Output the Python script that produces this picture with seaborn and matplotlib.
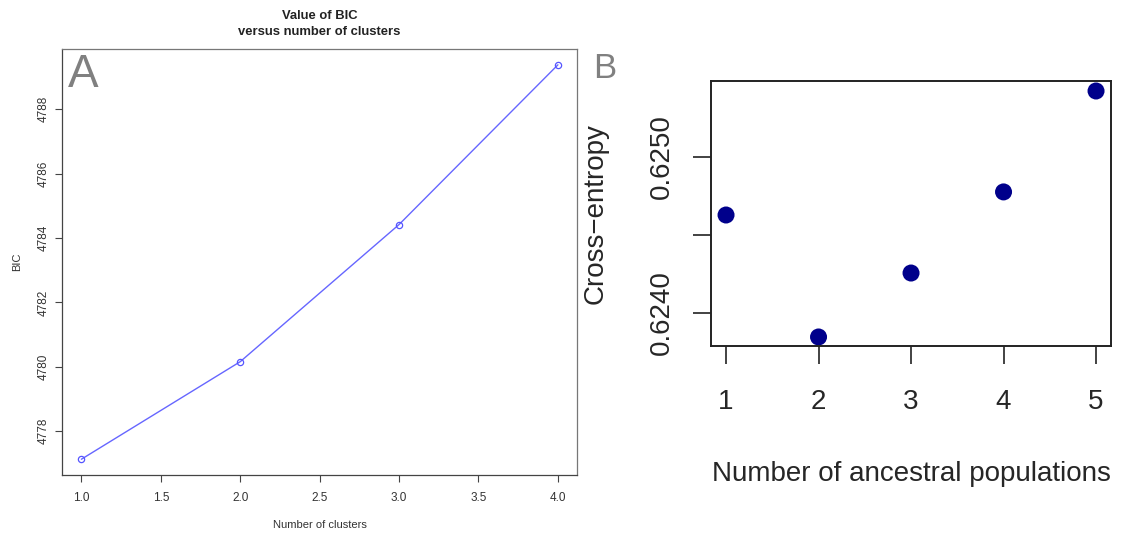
import matplotlib
matplotlib.use("Agg")
import matplotlib.pyplot as plt
import seaborn as sns
import pandas as pd

# Panel A data
clusters = [1, 2, 3, 4]
bic = [4777.13, 4780.16, 4784.42, 4789.38]
# Panel B data
k_pops = [1, 2, 3, 4, 5]
cross_entropy = [0.624628, 0.623846, 0.624256, 0.624776, 0.625423]

sns.set_theme(style="white")
plt.rcParams['font.family'] = ['Liberation Sans', 'DejaVu Sans']

fig = plt.figure(figsize=(11.21, 5.33), dpi=100)

# ---- Panel A ----
axA = fig.add_axes([0.0556, 0.1088, 0.4591, 0.7992])
dfA = pd.DataFrame({"k": clusters, "bic": bic})
sns.lineplot(data=dfA, x="k", y="bic", ax=axA, color="#6666ff", linewidth=1.0,
             marker="o", markersize=4.5, markerfacecolor="none",
             markeredgecolor="#5555ff", markeredgewidth=0.9)
axA.set_xlim(0.88, 4.12)
axA.set_ylim(4776.64, 4789.87)
axA.set_xticks([1.0, 1.5, 2.0, 2.5, 3.0, 3.5, 4.0])
axA.set_xticklabels(["1.0", "1.5", "2.0", "2.5", "3.0", "3.5", "4.0"], fontsize=8.5, color="#333333")
axA.set_yticks([4778, 4780, 4782, 4784, 4786, 4788])
axA.set_yticklabels(["4778", "4780", "4782", "4784", "4786", "4788"], fontsize=8.5,
                    rotation=90, va="center", color="#333333")
axA.tick_params(axis="both", length=5, width=0.8, color="#444444", left=True, bottom=True)
axA.tick_params(axis="y", pad=4)
axA.tick_params(axis="x", pad=7.5)
for s in axA.spines.values():
    s.set_color("#777777")
    s.set_linewidth(0.9)
axA.spines["left"].set_color("#444444")
axA.spines["bottom"].set_color("#444444")
axA.set_xlabel("Number of clusters", fontsize=8, color="#333333", labelpad=11)
axA.set_ylabel("BIC", fontsize=8, color="#333333", labelpad=11)
axA.set_title("Value of BIC\nversus number of clusters", fontsize=9.4, fontweight="bold",
              color="#222222", pad=10, linespacing=1.5)
axA.text(0.01, 0.991, "A", transform=axA.transAxes, fontsize=33, color="#808080",
         ha="left", va="top")

# ---- Panel B ----
axB = fig.add_axes([0.6343, 0.3508, 0.3568, 0.4972])
dfB = pd.DataFrame({"k": k_pops, "ce": cross_entropy})
sns.scatterplot(data=dfB, x="k", y="ce", ax=axB, color="#00008b", s=150,
                edgecolor="none", legend=False)
axB.set_xlim(0.838, 5.162)
axB.set_ylim(0.623788, 0.625487)
axB.set_xticks(k_pops)
axB.set_xticklabels([str(v) for v in k_pops], fontsize=20)
axB.set_yticks([0.6240, 0.6245, 0.6250])
axB.set_yticklabels(["0.6240", "", "0.6250"], fontsize=20, rotation=90, va="center")
axB.tick_params(axis="both", length=13, width=1.2, color="#222222", left=True, bottom=True)
axB.tick_params(axis="x", pad=18)
axB.tick_params(axis="y", pad=13)
for s in axB.spines.values():
    s.set_color("#222222")
    s.set_linewidth(1.4)
axB.set_xlabel("Number of ancestral populations", fontsize=20, labelpad=33)
axB.set_ylabel("Cross\u2212entropy", fontsize=20, labelpad=29)
fig.text(0.529, 0.902, "B", fontsize=25, color="#808080", ha="left", va="top")

fig.savefig("out.png", dpi=100)
